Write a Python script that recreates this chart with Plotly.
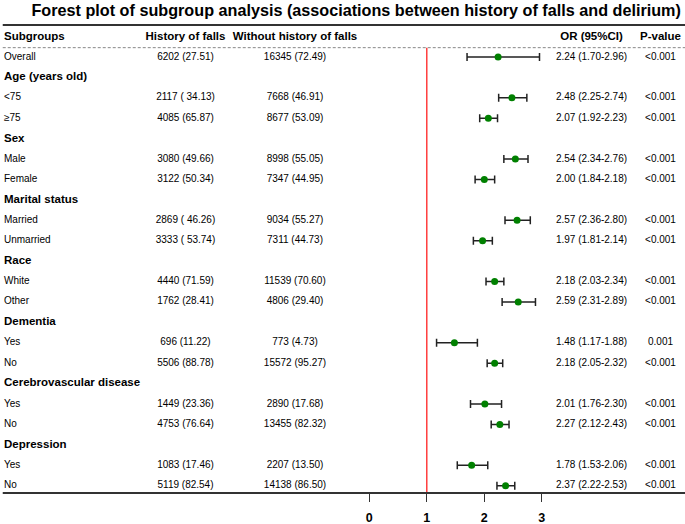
import plotly.graph_objects as go

# ---------------- data ----------------
labels = ["Subgroups", "Overall", "Age (years old)", "<75", "≥75", "Sex", "Male", "Female",
          "Marital status", "Married", "Unmarried", "Race", "White", "Other",
          "Dementia", "Yes", "No", "Cerebrovascular disease", "Yes", "No",
          "Depression", "Yes", "No"]
is_bold = [True, False, True, False, False, True, False, False,
           True, False, False, True, False, False,
           True, False, False, True, False, False,
           True, False, False]
falls = ["History of falls", "6202 (27.51)", "", "2117 ( 34.13)", "4085 (65.87)", "",
         "3080 (49.66)", "3122 (50.34)", "", "2869 ( 46.26)", "3333 ( 53.74)", "",
         "4440 (71.59)", "1762 (28.41)", "", "696 (11.22)", "5506 (88.78)", "",
         "1449 (23.36)", "4753 (76.64)", "", "1083 (17.46)", "5119 (82.54)"]
no_falls = ["Without history of falls", "16345 (72.49)", "", "7668 (46.91)", "8677 (53.09)", "",
            "8998 (55.05)", "7347 (44.95)", "", "9034 (55.27)", "7311 (44.73)", "",
            "11539 (70.60)", "4806 (29.40)", "", "773 (4.73)", "15572 (95.27)", "",
            "2890 (17.68)", "13455 (82.32)", "", "2207 (13.50)", "14138 (86.50)"]
or_est = [None, 2.24, None, 2.48, 2.07, None, 2.54, 2.00, None, 2.57, 1.97, None,
          2.18, 2.59, None, 1.48, 2.18, None, 2.01, 2.27, None, 1.78, 2.37]
ci_low = [None, 1.70, None, 2.25, 1.92, None, 2.34, 1.84, None, 2.36, 1.81, None,
          2.03, 2.31, None, 1.17, 2.05, None, 1.76, 2.12, None, 1.53, 2.22]
ci_high = [None, 2.96, None, 2.74, 2.23, None, 2.76, 2.18, None, 2.80, 2.14, None,
           2.34, 2.89, None, 1.88, 2.32, None, 2.30, 2.43, None, 2.06, 2.53]
or_text = ["OR (95%CI)", "2.24 (1.70-2.96)", "", "2.48 (2.25-2.74)", "2.07 (1.92-2.23)", "",
           "2.54 (2.34-2.76)", "2.00 (1.84-2.18)", "", "2.57 (2.36-2.80)", "1.97 (1.81-2.14)", "",
           "2.18 (2.03-2.34)", "2.59 (2.31-2.89)", "", "1.48 (1.17-1.88)", "2.18 (2.05-2.32)", "",
           "2.01 (1.76-2.30)", "2.27 (2.12-2.43)", "", "1.78 (1.53-2.06)", "2.37 (2.22-2.53)"]
p_text = ["P-value", "<0.001", "", "<0.001", "<0.001", "", "<0.001", "<0.001", "",
          "<0.001", "<0.001", "", "<0.001", "<0.001", "", "0.001", "<0.001", "",
          "<0.001", "<0.001", "", "<0.001", "<0.001"]
tick_vals = [0, 1, 2, 3]
ref_line = 1

# ---------------- layout constants ----------------
W, H = 685, 524
PX_PER_UNIT = 57.5
X0_PX = 369.3
x_left = -X0_PX / PX_PER_UNIT
x_right = (W - X0_PX) / PX_PER_UNIT

def px2x(px):
    return (px - X0_PX) / PX_PER_UNIT

rows = list(range(len(labels)))
FONT = "Liberation Sans, Arial, sans-serif"
BOLD_SIZE = 11.5
REG_SIZE = 10

fig = go.Figure()

def add_col(texts, xpx, pos, bold_mask):
    for bold in (True, False):
        ys = [r for r, t, b in zip(rows, texts, bold_mask) if t and b == bold]
        ts = [t for r, t, b in zip(rows, texts, bold_mask) if t and b == bold]
        if not ys:
            continue
        fig.add_trace(go.Scatter(
            x=[px2x(xpx)] * len(ys), y=ys, text=ts, mode="text",
            textposition=pos, hoverinfo="skip", showlegend=False,
            textfont=dict(family=FONT, size=BOLD_SIZE if bold else REG_SIZE, color="black",
                          weight="bold" if bold else "normal")))

header_mask = [r == 0 for r in rows]
add_col(labels, 4, "middle right", is_bold)
add_col(falls, 185.5, "middle center", header_mask)
add_col(no_falls, 295, "middle center", header_mask)
add_col(or_text, 591.5, "middle center", header_mask)
add_col(p_text, 660.5, "middle center", header_mask)

# forest points with CI
pts = [(r, e, lo, hi) for r, e, lo, hi in zip(rows, or_est, ci_low, ci_high) if e is not None]
fig.add_trace(go.Scatter(
    x=[p[1] for p in pts], y=[p[0] for p in pts], mode="markers",
    marker=dict(color="#008000", size=7),
    error_x=dict(type="data", symmetric=False,
                 array=[p[3] - p[1] for p in pts],
                 arrayminus=[p[1] - p[2] for p in pts],
                 color="#222222", thickness=1.5, width=4),
    showlegend=False, hoverinfo="skip"))

# reference line
fig.add_shape(type="line", x0=ref_line, x1=ref_line, y0=0.54, y1=22.4,
              xref="x", yref="y", line=dict(color="#ff2020", width=1.3))
# top rule
fig.add_shape(type="line", x0=0.004, x1=1, y0=1, y1=1, xref="paper", yref="paper",
              line=dict(color="#333333", width=2.2))
# dashed rule under header
fig.add_shape(type="line", x0=0.004, x1=1, y0=0.54, y1=0.54, xref="paper", yref="y",
              line=dict(color="#888888", width=1, dash="3px,2px"))
# bottom rule
fig.add_shape(type="line", x0=0.004, x1=1, y0=0, y1=0, xref="paper", yref="paper",
              line=dict(color="#333333", width=2.2))

fig.update_layout(
    width=W, height=H,
    margin=dict(l=0, r=0, t=25, b=31),
    plot_bgcolor="white", paper_bgcolor="white",
    title=dict(text="Forest plot of subgroup analysis (associations between history of falls and delirium)",
               x=0.52, xanchor="center", y=0.98, yanchor="middle",
               font=dict(family=FONT, size=16.2, color="black", weight="bold")),
    xaxis=dict(range=[x_left, x_right], tickvals=tick_vals, showgrid=False, zeroline=False,
               showline=False, ticks="outside", ticklen=8, tickwidth=1.2, tickcolor="#333333",
               ticklabelstandoff=5,
               tickfont=dict(family=FONT, size=12.5, color="black", weight="bold")),
    yaxis=dict(range=[22.36, -0.57], showgrid=False, zeroline=False, showticklabels=False,
               showline=False),
)

fig.write_html("out.html", config={"displayModeBar": False},
               post_script="document.body.style.margin='0';document.body.style.overflow='hidden';")
